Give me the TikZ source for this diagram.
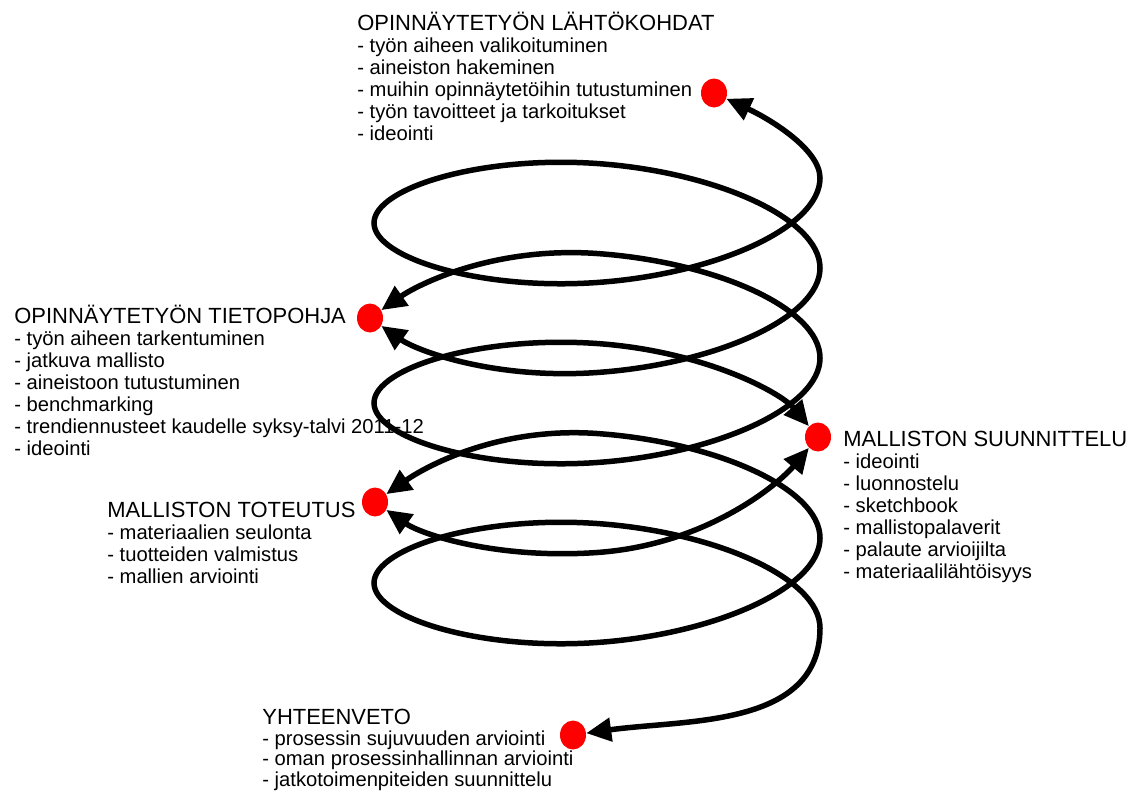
\documentclass[tikz,border=0pt]{standalone}
\usepackage{fontspec}
\setmainfont{Liberation Sans}
\usetikzlibrary{arrows.meta,shapes.geometric}

\newcommand{\blocktitle}[1]{{\fontsize{12.5pt}{12.47pt}\selectfont #1}}

\tikzset{
  txt/.style={anchor=base west,align=left,inner sep=0pt,font=\fontsize{11.5pt}{12.47pt}\selectfont},
  dot/.style={ellipse,fill=red,minimum width=0.52cm,minimum height=0.58cm,inner sep=0pt},
  spiral/.style={line width=0.11cm,line cap=round,{Triangle[length=0.5cm,width=0.46cm]}-{Triangle[length=0.5cm,width=0.46cm]}},
  rbq/.style={out=-90,in=4,out looseness=.52,in looseness=1.22},
  blq/.style={out=184,in=-90,out looseness=1.29,in looseness=.39},
  ltq/.style={out=90,in=176,out looseness=.39,in looseness=1.29},
  trq/.style={out=-4,in=90,out looseness=1.22,in looseness=.52}
}

\begin{document}
\begin{tikzpicture}[x=0.02cm,y=0.02cm]
\useasboundingbox (0,0) rectangle (1139,-796);
\foreach \n in {0,...,20}
  \coordinate (h\n) at ({597+223*cos(90*\n)},{-178-22.5*\n-82*sin(90*\n)});

% text blocks, placed by the baseline of their last line
\node[txt] (ta) at (357,-140) {\blocktitle{OPINNÄYTETYÖN LÄHTÖKOHDAT}\\- työn aiheen valikoituminen\\- aineiston hakeminen\\- muihin opinnäytetöihin tutustuminen\\- työn tavoitteet ja tarkoitukset\\- ideointi};
\node[txt] (tb) at (14,-455) {\blocktitle{OPINNÄYTETYÖN TIETOPOHJA}\\- työn aiheen tarkentuminen\\- jatkuva mallisto\\- aineistoon tutustuminen\\- benchmarking\\- trendiennusteet kaudelle syksy-talvi 2011-12\\- ideointi};
\node[txt] (tc) at (843,-578) {\blocktitle{MALLISTON SUUNNITTELU}\\- ideointi\\- luonnostelu\\- sketchbook\\- mallistopalaverit\\- palaute arvioijilta\\- materiaalilähtöisyys};
\node[txt] (td) at (107,-583) {\blocktitle{MALLISTON TOTEUTUS}\\- materiaalien seulonta\\- tuotteiden valmistus\\- mallien arviointi};
\node[txt,font=\fontsize{11.5pt}{11.6pt}\selectfont] (te) at (262,-786) {\blocktitle{YHTEENVETO}\\- prosessin sujuvuuden arviointi\\- oman prosessinhallinnan arviointi\\- jatkotoimenpiteiden suunnittelu};

\node[dot] (A) at (714,-93) {};
\node[dot] (B) at (370,-318) {};
\node[dot] (C) at (818,-437) {};
\node[dot] (D) at (375,-502) {};
\node[dot] (E) at (573,-735) {};

\draw[spiral] (A) to[out=-25,in=90,in looseness=.6] (h0) to[rbq] (h1) to[blq] (h2) to[ltq] (h3) to[trq] (h4) to[rbq] (h5) to[out=184,in=-35,out looseness=1.2,in looseness=.5] (B);
\draw[spiral] (B) to[out=35,in=176,out looseness=.5,in looseness=1.2] (h7) to[trq] (h8) to[rbq] (h9) to[blq] (h10) to[ltq] (h11) to[out=-4,in=130,out looseness=1.2,in looseness=.5] (C);
\draw[spiral] (C) to[out=-130,in=4,out looseness=.5,in looseness=1.2] (h13) to[out=184,in=-35,out looseness=1.2,in looseness=.5] (D);
\draw[spiral] (D) to[out=35,in=176,out looseness=.5,in looseness=1.2] (h15) to[trq] (h16) to[rbq] (h17) to[blq] (h18) to[ltq] (h19) to[trq] (h20) to[out=-90,in=8] (E);
\end{tikzpicture}
\end{document}
